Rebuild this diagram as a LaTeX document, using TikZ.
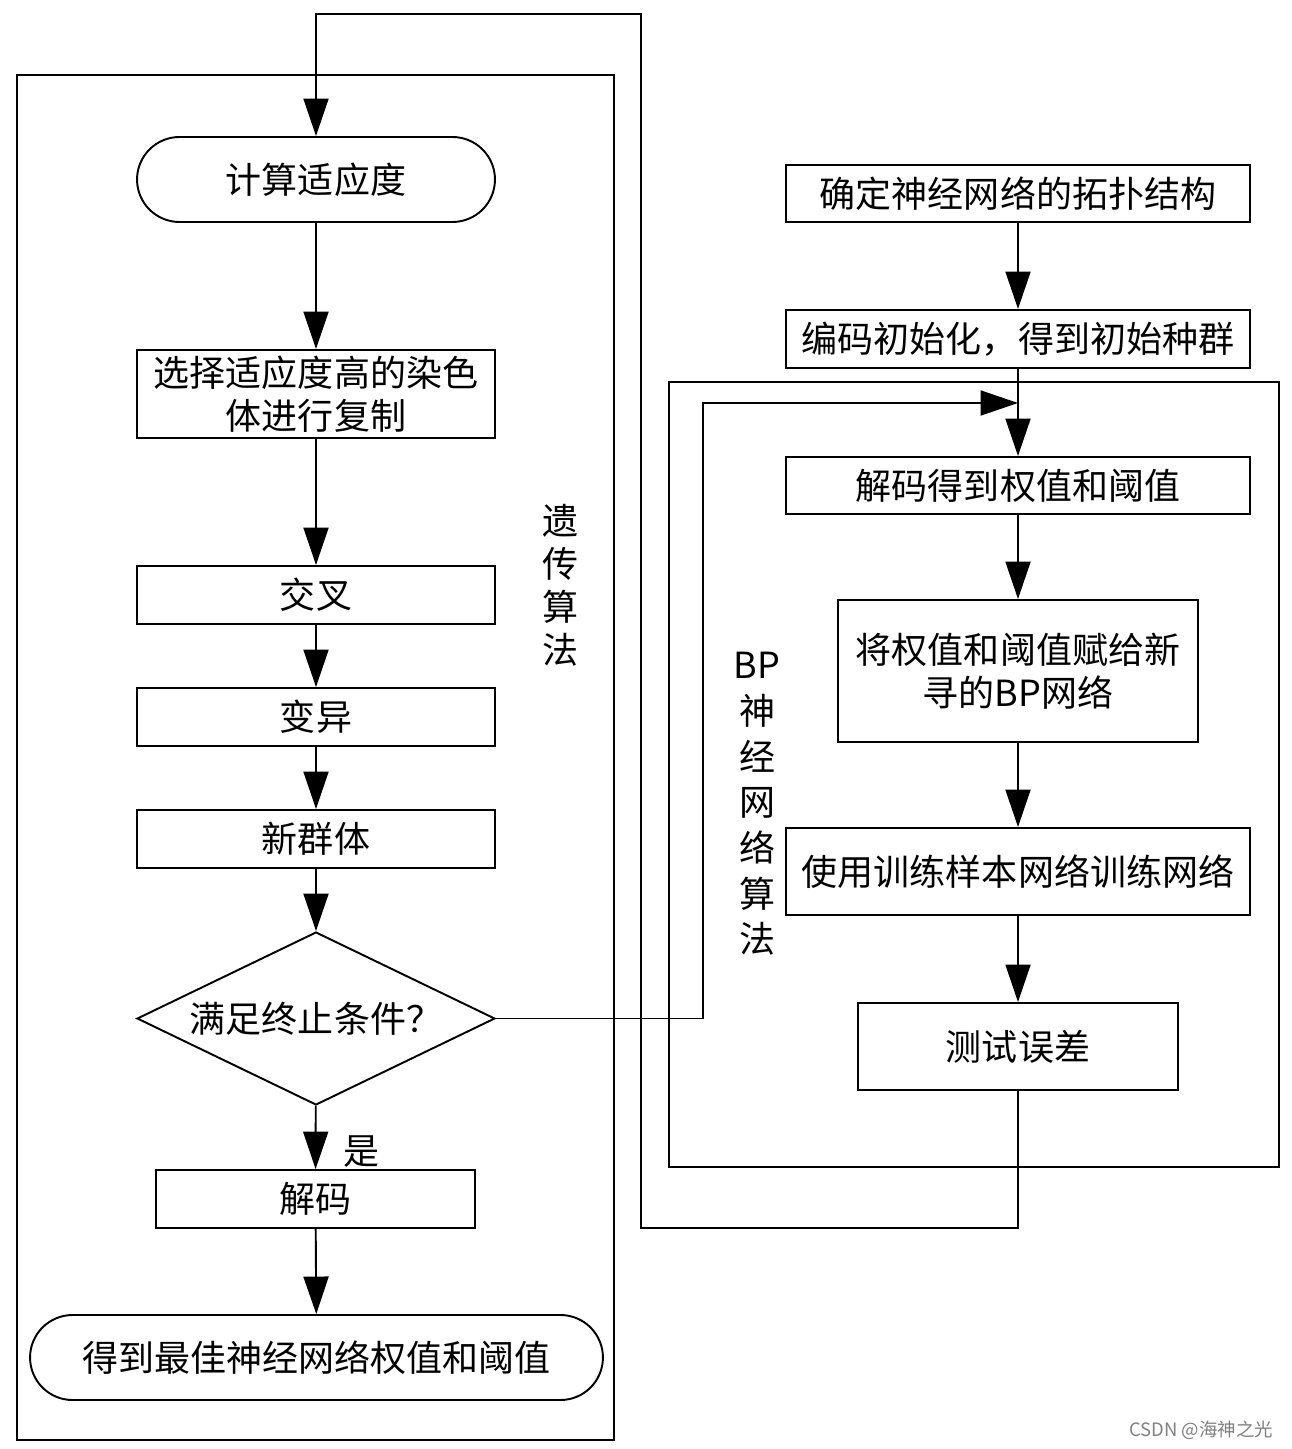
\documentclass[tikz,border=0pt]{standalone}
\usepackage{fontspec}
\setmainfont{Noto Sans CJK SC}
\usetikzlibrary{arrows.meta,shapes.geometric,shapes.misc}

\begin{document}
\begin{tikzpicture}[x=0.02cm, y=-0.02cm, line width=1.1pt,
  font=\fontsize{20.5}{24.5}\selectfont,
  box/.style = {draw, rectangle, align=center, inner sep=0pt},
  term/.style = {draw, rounded rectangle, align=center, inner sep=0pt},
  cond/.style = {draw, diamond, aspect=2.07, inner sep=0pt},
  arr/.style = {-{Triangle[length=0.75cm, width=0.5cm]}}]
\useasboundingbox (0,0) rectangle (1291,1449);

% genetic algorithm
\draw (17,75) rectangle (614,1440);
\node[term, minimum width=7.16cm, minimum height=1.7cm] (calc) at (316,179.5) {计算适应度};
\node[box, minimum width=7.16cm, minimum height=1.76cm] (sel) at (316,394) {选择适应度高的染色\\体进行复制};
\node[box, minimum width=7.16cm, minimum height=1.16cm] (cross) at (316,595) {交叉};
\node[box, minimum width=7.16cm, minimum height=1.16cm] (mut) at (316,717) {变异};
\node[box, minimum width=7.16cm, minimum height=1.16cm] (newp) at (316,839) {新群体};
\node[cond, minimum width=7.16cm, minimum height=3.46cm] (stop) at (316,1018.5) {满足终止条件？};
\node[box, minimum width=6.38cm, minimum height=1.16cm] (decode) at (315.5,1199) {解码};
\node[term, minimum width=11.46cm, minimum height=1.7cm] (best) at (316.5,1357.5) {得到最佳神经网络权值和阈值};
\node (yes) at (362,1152) {是};
\node[align=center] (galab) at (560,585) {遗\\传\\算\\法};

% BP network
\draw (669,382) rectangle (1279,1167);
\node[box, minimum width=9.28cm, minimum height=1.14cm] (topo) at (1018,193.5) {确定神经网络的拓扑结构};
\node[box, minimum width=9.28cm, minimum height=1.16cm] (init) at (1018,339) {编码初始化，得到初始种群};
\node[box, minimum width=9.28cm, minimum height=1.14cm] (decw) at (1018,485.5) {解码得到权值和阈值};
\node[box, minimum width=7.2cm, minimum height=2.84cm] (assign) at (1018,671) {将权值和阈值赋给新\\寻的BP网络};
\node[box, minimum width=9.28cm, minimum height=1.74cm] (train) at (1018,871.5) {使用训练样本网络训练网络};
\node[box, minimum width=6.4cm, minimum height=1.74cm] (test) at (1018,1046.5) {测试误差};
\node[align=center, font=\fontsize{20.5}{26}\selectfont] (bplab) at (757,804) {BP\\神\\经\\网\\络\\算\\法};

\node[text=gray, anchor=east, font=\fontsize{10.5}{12}\selectfont] (mark) at (1280,1430) {CSDN @海神之光};

\coordinate (loopA) at (641,1228);
\coordinate (loopB) at (641,14);
\coordinate (fbk) at (703,403);

\draw[arr] (calc) -- (sel);
\draw[arr] (sel) -- (cross);
\draw[arr] (cross) -- (mut);
\draw[arr] (mut) -- (newp);
\draw[arr] (newp) -- (stop);
\draw[arr] (stop) -- (decode);
\draw[arr] (decode) -- (best);

\draw[arr] (topo) -- (init);
\draw[arr] (init) -- (decw);
\draw[arr] (decw) -- (assign);
\draw[arr] (assign) -- (train);
\draw[arr] (train) -- (test);

\draw[arr] (stop.east) -| (fbk) -- (fbk -| decw.north);
\draw[arr] (test.south) |- (loopA) -- (loopB) -| (calc.north);
\end{tikzpicture}
\end{document}
